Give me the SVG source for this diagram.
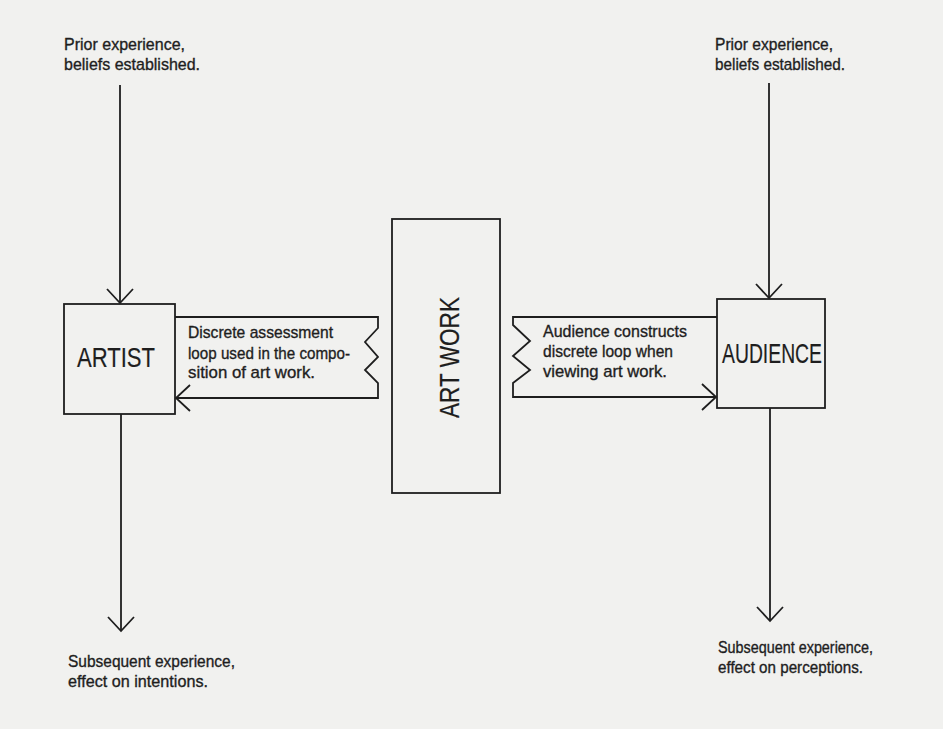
<svg xmlns="http://www.w3.org/2000/svg" width="943" height="729" viewBox="0 0 943 729">
<style>
.bg{fill:#f1f1ef}
.box{fill:none;stroke:#1e1e1e;stroke-width:1.8}
.ln{fill:none;stroke:#1e1e1e;stroke-width:1.8;stroke-linejoin:miter}
.t{font-family:"Liberation Sans",Arial,sans-serif;font-size:17px;fill:#1e1e1e;stroke:#1e1e1e;stroke-width:0.35}
.big{font-family:"Liberation Sans",Arial,sans-serif;font-size:28.5px;fill:#1e1e1e;stroke:#1e1e1e;stroke-width:0.2}
</style>
<defs>
<marker id="v" markerUnits="userSpaceOnUse" markerWidth="32" markerHeight="32" viewBox="-16 -16 32 32" refX="0" refY="0" orient="auto" overflow="visible">
<path d="M-14,-13 L0,0 L-14,13" fill="none" stroke="#1e1e1e" stroke-width="1.8"/>
</marker>
</defs>
<rect class="bg" x="0" y="0" width="943" height="729"/>

<g id="connectors">
<line class="ln" x1="120" y1="85" x2="120" y2="303" marker-end="url(#v)"/>
<line class="ln" x1="121" y1="414" x2="121" y2="631" marker-end="url(#v)"/>
<path class="ln" d="M175,317 H378 V328 L365,342 L378,357 L365,370 L378,383 V398 H176" marker-end="url(#v)"/>
<path class="ln" d="M717,317 H513 V325 L530,341 L513,356 L530,370 L513,383 V397 H716" marker-end="url(#v)"/>
<line class="ln" x1="769" y1="83" x2="769" y2="298" marker-end="url(#v)"/>
<line class="ln" x1="770" y1="408" x2="770" y2="621" marker-end="url(#v)"/>
</g>

<g id="artist">
<rect class="box" x="64" y="304" width="111" height="110"/>
<text class="big" x="77" y="367" textLength="78" lengthAdjust="spacingAndGlyphs">ARTIST</text>
</g>

<g id="artwork">
<rect class="box" x="392" y="219" width="108" height="274"/>
<text class="big" transform="translate(459,418) rotate(-90)" x="0" y="0" textLength="121" lengthAdjust="spacingAndGlyphs">ART WORK</text>
</g>

<g id="audience">
<rect class="box" x="717" y="299" width="108" height="109"/>
<text class="big" x="722" y="363" textLength="100" lengthAdjust="spacingAndGlyphs">AUDIENCE</text>
</g>

<g id="artist-loop-label">
<text class="t" x="188" y="338" textLength="145" lengthAdjust="spacingAndGlyphs">Discrete assessment</text>
<text class="t" x="188" y="359" textLength="162" lengthAdjust="spacingAndGlyphs">loop used in the compo-</text>
<text class="t" x="188" y="378" textLength="127" lengthAdjust="spacingAndGlyphs">sition of art work.</text>
</g>

<g id="audience-loop-label">
<text class="t" x="543" y="337" textLength="144" lengthAdjust="spacingAndGlyphs">Audience constructs</text>
<text class="t" x="543" y="357" textLength="130" lengthAdjust="spacingAndGlyphs">discrete loop when</text>
<text class="t" x="543" y="377" textLength="124" lengthAdjust="spacingAndGlyphs">viewing art work.</text>
</g>

<g id="artist-prior">
<text class="t" x="64" y="50" textLength="121" lengthAdjust="spacingAndGlyphs">Prior experience,</text>
<text class="t" x="64" y="70" textLength="136" lengthAdjust="spacingAndGlyphs">beliefs established.</text>
</g>

<g id="audience-prior">
<text class="t" x="715" y="50" textLength="118" lengthAdjust="spacingAndGlyphs">Prior experience,</text>
<text class="t" x="715" y="70" textLength="130" lengthAdjust="spacingAndGlyphs">beliefs established.</text>
</g>

<g id="artist-subsequent">
<text class="t" x="68" y="667" textLength="167" lengthAdjust="spacingAndGlyphs">Subsequent experience,</text>
<text class="t" x="68" y="687" textLength="140" lengthAdjust="spacingAndGlyphs">effect on intentions.</text>
</g>

<g id="audience-subsequent">
<text class="t" x="718" y="653" textLength="155" lengthAdjust="spacingAndGlyphs">Subsequent experience,</text>
<text class="t" x="718" y="673" textLength="145" lengthAdjust="spacingAndGlyphs">effect on perceptions.</text>
</g>
</svg>
